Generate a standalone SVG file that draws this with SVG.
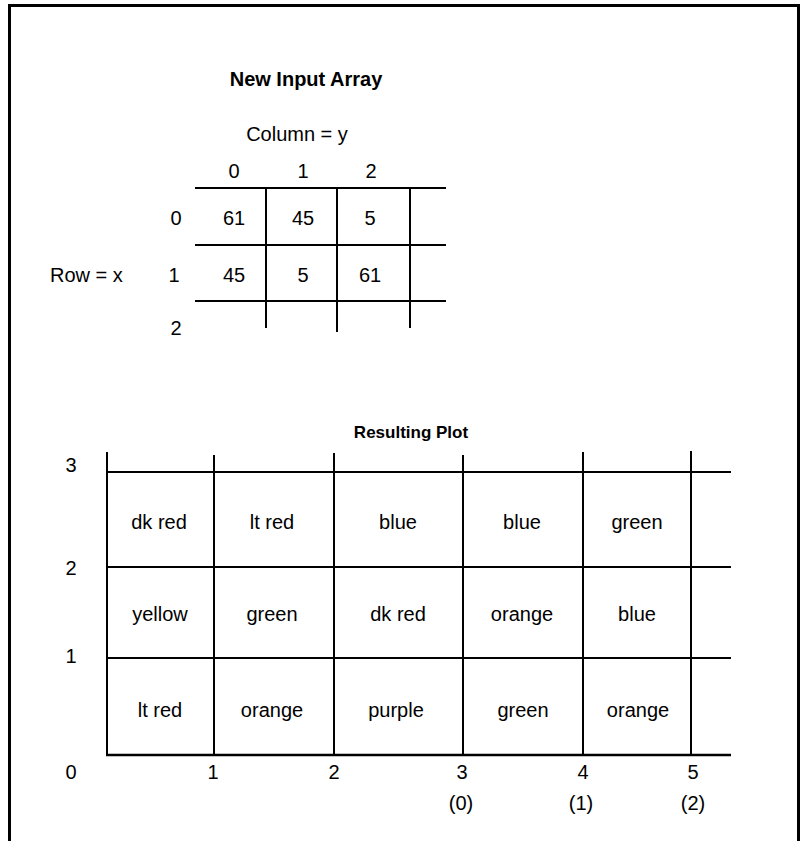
<svg xmlns="http://www.w3.org/2000/svg" width="800" height="841" viewBox="0 0 800 841">
<style>
text{font-family:"Liberation Sans",Arial,sans-serif;font-size:20px;fill:#000;text-anchor:middle}
.t{font-weight:bold;font-size:17px}
.ln{stroke:#000;stroke-width:2;fill:none}
</style>
<rect width="800" height="841" fill="#fff"/>
<path d="M9.5,841 V5.5 H798.5 V841" fill="none" stroke="#000" stroke-width="3"/>
<g id="array">
<text class="t" x="306" y="86" style="font-size:20px">New Input Array</text>
<text x="297" y="141">Column = y</text>
<text x="234" y="178">0</text><text x="303" y="178">1</text><text x="371" y="178">2</text>
<text x="176" y="225">0</text><text x="234" y="225">61</text><text x="303" y="225">45</text><text x="370" y="225">5</text>
<text x="50" y="282" style="text-anchor:start">Row = x</text>
<text x="174" y="282">1</text><text x="234" y="282">45</text><text x="303" y="282">5</text><text x="370" y="282">61</text>
<text x="176" y="335">2</text>
<g class="ln">
<path d="M195,188H446M195,245H446M195,301H446"/>
<path d="M266,188V328M337,188V332M410,188V328"/>
</g>
</g>
<g id="plot">
<text class="t" x="411" y="438">Resulting Plot</text>
<g class="ln">
<path d="M107,472H731M107,567H731M107,658H731"/>
<path d="M106,755H731" stroke-width="2.5"/>
<path d="M107,452V755M214,455V755M334,453V755M463,455V755M583,452V755M691,451V755"/>
</g>
<text x="71" y="472">3</text><text x="71" y="575">2</text><text x="71" y="663">1</text><text x="71" y="779">0</text>
<text x="159" y="529">dk red</text><text x="272" y="529">lt red</text><text x="398" y="529">blue</text><text x="522" y="529">blue</text><text x="637" y="529">green</text>
<text x="160" y="621">yellow</text><text x="272" y="621">green</text><text x="398" y="621">dk red</text><text x="522" y="621">orange</text><text x="637" y="621">blue</text>
<text x="160" y="717">lt red</text><text x="272" y="717">orange</text><text x="396" y="717">purple</text><text x="523" y="717">green</text><text x="638" y="717">orange</text>
<text x="213" y="779">1</text><text x="334" y="779">2</text><text x="462" y="779">3</text><text x="583" y="779">4</text><text x="693" y="779">5</text>
<text x="461" y="810">(0)</text><text x="581" y="810">(1)</text><text x="693" y="810">(2)</text>
</g>
</svg>
